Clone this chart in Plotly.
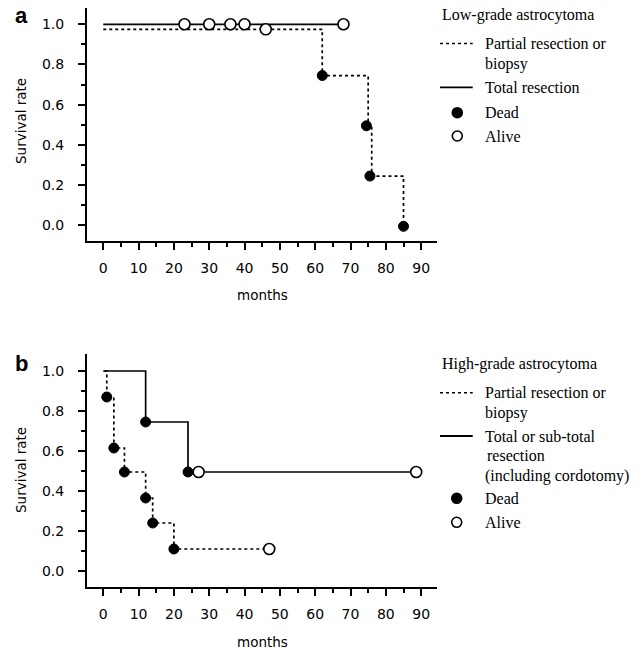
import plotly.graph_objects as go

W, H = 643, 650

# ---------------- data (months, survival rate) ----------------
# Panel a: Low-grade astrocytoma
a_total_line_months = [0, 68]
a_total_line_surv = [1.0, 1.0]
a_partial_line_months = [0, 62, 75, 76, 85]
a_partial_line_surv = [0.975, 0.745, 0.495, 0.245, -0.005]
a_dead_months = [62, 74.5, 75.5, 85]
a_dead_surv = [0.745, 0.495, 0.245, -0.005]
a_alive_total_months = [23, 30, 36, 40, 68]
a_alive_total_surv = [1.0, 1.0, 1.0, 1.0, 1.0]
a_alive_partial_months = [46]
a_alive_partial_surv = [0.975]

# Panel b: High-grade astrocytoma
b_total_line_months = [0, 12, 24, 89]
b_total_line_surv = [1.0, 0.745, 0.495, 0.495]
b_total_dead_months = [12, 24]
b_total_dead_surv = [0.745, 0.495]
b_total_alive_months = [27, 88.6]
b_total_alive_surv = [0.495, 0.495]
b_partial_line_months = [0.3, 1, 3, 6, 12, 14, 20, 47]
b_partial_line_surv = [1.0, 0.87, 0.615, 0.495, 0.365, 0.24, 0.11, 0.11]
b_partial_dead_months = [1, 3, 6, 12, 14, 20]
b_partial_dead_surv = [0.87, 0.615, 0.495, 0.365, 0.24, 0.11]
b_partial_alive_months = [47]
b_partial_alive_surv = [0.11]

x_ticks = [0, 10, 20, 30, 40, 50, 60, 70, 80, 90]
y_ticks = [0.0, 0.2, 0.4, 0.6, 0.8, 1.0]
y_tick_labels = ["0.0", "0.2", "0.4", "0.6", "0.8", "1.0"]

# ---------------- helpers ----------------
def px(x):
    return x / W

def py(y):
    return 1 - y / H

SANS = "DejaVu Sans"
SERIF = "Liberation Serif"
MS = 10

fig = go.Figure()

def line(xs, ys, dash, xa, ya):
    fig.add_trace(go.Scatter(x=xs, y=ys, mode="lines", line_shape="hv",
                             line=dict(color="black", width=1.7, dash=dash),
                             xaxis=xa, yaxis=ya, showlegend=False, hoverinfo="skip"))

def dead(xs, ys, xa, ya):
    fig.add_trace(go.Scatter(x=xs, y=ys, mode="markers",
                             marker=dict(size=MS, color="black", line=dict(color="black", width=1)),
                             xaxis=xa, yaxis=ya, showlegend=False))

def alive(xs, ys, xa, ya):
    fig.add_trace(go.Scatter(x=xs, y=ys, mode="markers",
                             marker=dict(size=MS + 1, color="white", line=dict(color="black", width=1.6)),
                             xaxis=xa, yaxis=ya, showlegend=False))

# panel a
line(a_partial_line_months, a_partial_line_surv, "dot", "x", "y")
line(a_total_line_months, a_total_line_surv, "solid", "x", "y")
dead(a_dead_months, a_dead_surv, "x", "y")
alive(a_alive_total_months, a_alive_total_surv, "x", "y")
alive(a_alive_partial_months, a_alive_partial_surv, "x", "y")

# panel b
line(b_partial_line_months, b_partial_line_surv, "dot", "x2", "y2")
line(b_total_line_months, b_total_line_surv, "solid", "x2", "y2")
dead(b_partial_dead_months, b_partial_dead_surv, "x2", "y2")
dead(b_total_dead_months, b_total_dead_surv, "x2", "y2")
alive(b_partial_alive_months, b_partial_alive_surv, "x2", "y2")
alive(b_total_alive_months, b_total_alive_surv, "x2", "y2")

xrange = [-4.6, 94.4]
xdom = [px(87), px(436.7)]

def xaxis_cfg(anchor):
    return dict(domain=xdom, range=xrange, anchor=anchor,
                showline=True, linecolor="black", linewidth=2,
                showgrid=False, zeroline=False,
                tickmode="array", tickvals=x_ticks,
                ticks="outside", ticklen=7, tickwidth=1.6, tickcolor="black",
                ticklabelstandoff=6,
                minor=dict(tickmode="linear", tick0=5, dtick=10, ticks="outside",
                           ticklen=4, tickwidth=1.6, tickcolor="black", showgrid=False),
                tickfont=dict(family=SANS, size=14, color="black"))

def yaxis_cfg(anchor, rng, dom):
    return dict(domain=dom, range=rng, anchor=anchor,
                showline=True, linecolor="black", linewidth=2,
                showgrid=False, zeroline=False,
                tickmode="array", tickvals=y_ticks, ticktext=y_tick_labels,
                ticks="outside", ticklen=7, tickwidth=1.6, tickcolor="black",
                ticklabelstandoff=11,
                minor=dict(tickmode="linear", tick0=0.1, dtick=0.2, ticks="outside",
                           ticklen=4, tickwidth=1.6, tickcolor="black", showgrid=False),
                tickfont=dict(family=SANS, size=14, color="black"))

annotations = []
shapes = []

def text(x, y, s, size=16, family=SERIF, xanchor="left", bold=False, angle=0):
    annotations.append(dict(x=px(x), y=py(y), xref="paper", yref="paper",
                            text=("<b>%s</b>" % s) if bold else s, showarrow=False,
                            xanchor=xanchor, yanchor="middle", textangle=angle,
                            font=dict(family=family, size=size, color="black")))

def leg_line(x0, x1, y, dash):
    shapes.append(dict(type="line", xref="paper", yref="paper",
                       x0=px(x0), x1=px(x1), y0=py(y), y1=py(y),
                       line=dict(color="black", width=1.4 if dash == "dot" else 1.8, dash=dash)))

def leg_circle(cx, cy, filled):
    r = 5
    shapes.append(dict(type="circle", xref="paper", yref="paper",
                       x0=px(cx - r), x1=px(cx + r), y0=py(cy + r), y1=py(cy - r),
                       fillcolor="black" if filled else "white",
                       line=dict(color="black", width=1.6)))

# axis titles & panel letters
text(21, 121, "Survival rate", size=13.5, family=SANS, xanchor="center", angle=-90)
text(262, 295, "months", size=13.5, family=SANS, xanchor="center")
text(21, 470, "Survival rate", size=13.5, family=SANS, xanchor="center", angle=-90)
text(262, 642, "months", size=13.5, family=SANS, xanchor="center")
text(21, 16, "a", size=22, family="Liberation Sans", xanchor="center", bold=True)
text(21, 363, "b", size=22, family="Liberation Sans", xanchor="center", bold=True)

# legend a
text(440, 15, "Low-grade astrocytoma")
leg_line(440, 472.7, 43.5, "dot")
text(482.7, 43.3, "Partial resection or")
text(482.7, 64, "biopsy")
leg_line(440, 472.7, 87.3, "solid")
text(482.7, 87.3, "Total resection")
leg_circle(457.3, 112.7, True)
text(482.7, 112.7, "Dead")
leg_circle(457.3, 136, False)
text(482.7, 136, "Alive")

# legend b
text(440, 364, "High-grade astrocytoma")
leg_line(440, 472.7, 392.7, "dot")
text(482.7, 392.7, "Partial resection or")
text(482.7, 412.7, "biopsy")
leg_line(440, 472.7, 436, "solid")
text(482.7, 436, "Total or sub-total")
text(485, 455.5, "resection")
text(482.7, 475.5, "(including cordotomy)")
leg_circle(456.7, 498.3, True)
text(482.7, 498.3, "Dead")
leg_circle(456.7, 522.3, False)
text(482.7, 522.3, "Alive")

fig.update_layout(
    width=W, height=H,
    margin=dict(l=0, r=0, t=0, b=0),
    paper_bgcolor="white", plot_bgcolor="white",
    showlegend=False,
    xaxis=xaxis_cfg("y"),
    yaxis=yaxis_cfg("x", [-0.078, 1.081], [py(241), py(8)]),
    xaxis2=xaxis_cfg("y2"),
    yaxis2=yaxis_cfg("x2", [-0.0785, 1.0835], [py(586.7), py(354.3)]),
    annotations=annotations,
    shapes=shapes,
)

fig.write_html("out.html", config={"displayModeBar": False},
               post_script="document.body.style.margin='0';document.body.style.overflow='hidden';")
